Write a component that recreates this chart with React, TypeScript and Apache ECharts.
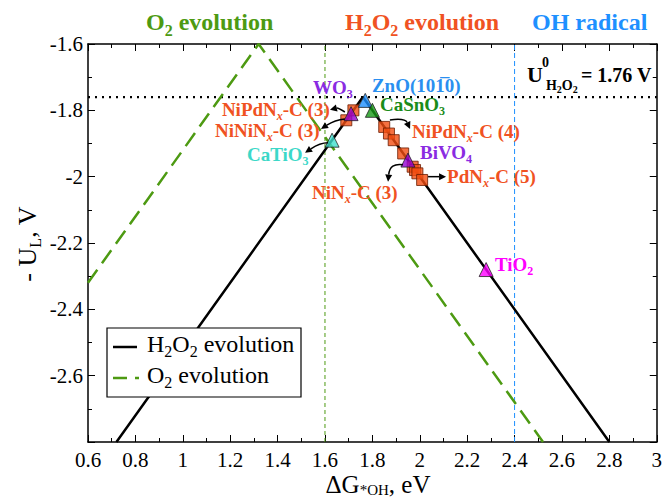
import React, { useEffect, useRef } from "react";
import * as echarts from "echarts";

const FONT = "'Liberation Serif', 'Times New Roman', serif";

// axes
const xMin = 0.6;
const xMax = 3;
const yMin = -2.8;
const yMax = -1.6;
const tickStep = 0.2;

// volcano lines
const h2o2LineX = [0.72, 1.76, 2.8];
const h2o2LineY = [-2.8, -1.76, -2.8];
const o2LineX = [0.6, 1.32, 2.52];
const o2LineY = [-2.32, -1.6, -2.8];
const u0H2O2 = -1.76;
const o2Limit = 1.6;
const ohLimit = 2.4;

// M-N-C catalysts (squares)
const squareX = [1.69, 1.72, 1.85, 1.87, 1.89, 1.93, 1.97, 1.98, 1.99, 2.01];
const squareY = [-1.83, -1.8, -1.85, -1.87, -1.89, -1.93, -1.97, -1.98, -1.99, -2.01];

// oxides (triangles)
const triNames = ["WO3", "ZnO", "CaSnO3", "CaTiO3", "BiVO4", "TiO2"];
const triX = [1.71, 1.77, 1.8, 1.63, 1.95, 2.28];
const triY = [-1.81, -1.77, -1.8, -1.89, -1.95, -2.28];
const triColors = ["#9400d3", "#1e90ff", "#169a16", "#40e0d0", "#9400d3", "#ff00ff"];

const ORANGE = "#f05222";
const GREEN = "#4d9a12";
const BLUE = "#1e90ff";

// annotation labels: rich text, anchor (left, middle) in data coords, colour
const labelTexts = [
  "{n|WO}{s|3}",
  "{n|ZnO(101\u03050)}",
  "{n|CaSnO}{s|3}",
  "{n|NiPdN}{i|x}{n|-C (4)}",
  "{n|BiVO}{s|4}",
  "{n|PdN}{i|x}{n|-C (5)}",
  "{n|NiN}{i|x}{n|-C (3)}",
  "{n|NiPdN}{i|x}{n|-C (3)}",
  "{n|NiNiN}{i|x}{n|-C (3)}",
  "{n|CaTiO}{s|3}",
  "{n|TiO}{s|2}",
];
const labelX = [1.549, 1.798, 1.832, 1.967, 2.001, 2.115, 1.545, 1.165, 1.136, 1.271, 2.317];
const labelY = [-1.732, -1.726, -1.783, -1.865, -1.928, -2.0, -2.048, -1.798, -1.862, -1.934, -2.265];
const labelColors = ["#8a2be2", "#2a8ff0", "#1a8c1a", ORANGE, "#8a2be2", ORANGE, ORANGE, ORANGE, ORANGE, "#3cd8c8", "#ff00ff"];

// arrows: start, control, end (data coords)
const arrowStart = [[1.684, -1.805], [1.684, -1.826], [1.613, -1.898], [1.874, -1.829], [1.929, -1.964], [2.035, -2.0]];
const arrowCtrl = [[1.655, -1.792], [1.642, -1.829], [1.579, -1.898], [1.938, -1.823], [1.874, -1.958], [2.07, -2.0]];
const arrowEnd = [[1.621, -1.798], [1.583, -1.856], [1.516, -1.928], [1.959, -1.856], [1.866, -2.015], [2.111, -2.0]];

const zip = (xs: number[], ys: number[]) => xs.map((x, i) => [x, ys[i]]);

export default function App() {
  const ref = useRef<HTMLDivElement>(null);

  useEffect(() => {
    if (!ref.current) return;
    const chart = echarts.init(ref.current, null, { renderer: "svg" });

    const tickCommon = {
      axisLine: { show: true, lineStyle: { color: "#000", width: 1.5 } },
      axisTick: { show: true, inside: true, length: 7, lineStyle: { color: "#000", width: 1 } },
      minorTick: { show: true, splitNumber: 2, length: 4, lineStyle: { color: "#000", width: 1 } },
      splitLine: { show: false },
      minorSplitLine: { show: false },
    };

    const option: any = {
      animation: false,
      backgroundColor: "#fff",
      grid: { left: 88, right: 8, top: 44, bottom: 55, containLabel: false },
      xAxis: [
        {
          type: "value",
          min: xMin,
          max: xMax,
          interval: tickStep,
          position: "bottom",
          ...tickCommon,
          axisLabel: { color: "#000", fontFamily: FONT, fontSize: 21, margin: 8, lineHeight: 20 },
        },
        {
          type: "value",
          min: xMin,
          max: xMax,
          interval: tickStep,
          position: "top",
          ...tickCommon,
          axisLabel: { show: false },
        },
      ],
      yAxis: [
        {
          type: "value",
          min: yMin,
          max: yMax,
          interval: tickStep,
          position: "left",
          ...tickCommon,
          axisLabel: {
            color: "#000",
            fontFamily: FONT,
            fontSize: 21,
            margin: 5,
            formatter: (v: number) => (Math.abs(v - yMin) < 1e-9 ? "" : String(Math.round(v * 10) / 10)),
          },
        },
        {
          type: "value",
          min: yMin,
          max: yMax,
          interval: tickStep,
          position: "right",
          ...tickCommon,
          axisLabel: { show: false },
        },
      ],
      series: [
        {
          type: "line",
          data: [[o2Limit, yMin], [o2Limit, yMax]],
          symbol: "none",
          lineStyle: { color: GREEN, width: 1, type: [4, 3] },
          z: 1,
        },
        {
          type: "line",
          data: [[ohLimit, yMin], [ohLimit, yMax]],
          symbol: "none",
          lineStyle: { color: BLUE, width: 1, type: [5, 3] },
          z: 1,
        },
        {
          type: "line",
          data: [[xMin, u0H2O2], [xMax, u0H2O2]],
          symbol: "none",
          lineStyle: { color: "#000", width: 2.2, type: [2, 5] },
          z: 1,
        },
        {
          type: "line",
          data: zip(o2LineX, o2LineY),
          symbol: "none",
          lineStyle: { color: GREEN, width: 2.5, type: [16, 8] },
          z: 2,
        },
        {
          type: "line",
          data: zip(h2o2LineX, h2o2LineY),
          symbol: "none",
          lineStyle: { color: "#000", width: 2.5 },
          z: 2,
        },
        {
          type: "scatter",
          data: zip(squareX, squareY),
          symbol: "rect",
          symbolSize: 11,
          itemStyle: { color: "#f24e12", borderColor: "#6a1c00", borderWidth: 1 },
          z: 3,
        },
        {
          type: "scatter",
          data: triNames.map((n, i) => ({
            name: n,
            value: [triX[i], triY[i]],
            itemStyle: { color: triColors[i] },
          })),
          symbol: "triangle",
          symbolSize: 14,
          itemStyle: { borderColor: "#222", borderWidth: 1 },
          z: 4,
        },
      ],
    };

    chart.setOption(option);

    const P = (x: number, y: number) => chart.convertToPixel({ gridIndex: 0 } as any, [x, y]) as number[];

    const rich = (color: string, size: number, sub: number, drop = 0.65, lh = size) => {
      const pad = [Math.round(size * drop), 0, 0, 0];
      return {
        n: { fill: color, fontSize: size, fontWeight: "bold", fontFamily: FONT, lineHeight: lh },
        s: { fill: color, fontSize: sub, fontWeight: "bold", fontFamily: FONT, padding: pad, lineHeight: lh },
        i: { fill: color, fontSize: sub, fontWeight: "bold", fontStyle: "italic", fontFamily: FONT, padding: pad, lineHeight: lh },
        r: { fill: color, fontSize: size, fontWeight: "normal", fontFamily: FONT, lineHeight: lh },
        rs: { fill: color, fontSize: sub, fontWeight: "normal", fontFamily: FONT, padding: pad, lineHeight: lh },
      };
    };

    const g: any[] = [];

    // labels
    labelTexts.forEach((t, i) => {
      const [px, py] = P(labelX[i], labelY[i]);
      g.push({
        type: "text",
        x: px,
        y: py,
        z: 100,
        style: { text: t, rich: rich(labelColors[i], 19, 12, 0.62, 19), textAlign: "left", textVerticalAlign: "middle" },
      });
    });

    // arrows
    arrowStart.forEach((s, i) => {
      const [x1, y1] = P(s[0], s[1]);
      const [cx, cy] = P(arrowCtrl[i][0], arrowCtrl[i][1]);
      const [x2, y2] = P(arrowEnd[i][0], arrowEnd[i][1]);
      let dx = x2 - cx;
      let dy = y2 - cy;
      const len = Math.hypot(dx, dy) || 1;
      dx /= len;
      dy /= len;
      const hl = 7;
      const hw = 3.5;
      const bx = x2 - dx * hl;
      const by = y2 - dy * hl;
      g.push({
        type: "bezierCurve",
        z: 100,
        shape: { x1, y1, x2: bx, y2: by, cpx1: cx, cpy1: cy },
        style: { stroke: "#000", lineWidth: 1.5, fill: null },
      });
      g.push({
        type: "polygon",
        z: 100,
        shape: {
          points: [
            [x2, y2],
            [bx - dy * hw, by + dx * hw],
            [bx + dy * hw, by - dx * hw],
          ],
        },
        style: { fill: "#000" },
      });
    });

    // U0 label
    {
      const [px, py] = P(2.452, -1.693);
      const f = { fontFamily: FONT, fontWeight: "bold", fill: "#000" };
      g.push({ type: "text", x: px, y: py, z: 100, style: { ...f, text: "U", fontSize: 22, textAlign: "left", textVerticalAlign: "middle" } });
      g.push({ type: "text", x: px + 15, y: py - 12, z: 100, style: { ...f, text: "0", fontSize: 14, textAlign: "left", textVerticalAlign: "middle" } });
      g.push({
        type: "text",
        x: px + 19,
        y: py + 11,
        z: 100,
        style: {
          text: "{a|H}{b|2}{a|O}{b|2}",
          rich: {
            a: { ...f, fontSize: 14, lineHeight: 14 },
            b: { ...f, fontSize: 10, padding: [8, 0, 0, 0], lineHeight: 14 },
          },
          textAlign: "left",
          textVerticalAlign: "middle",
        },
      });
      g.push({ type: "text", x: px + 54, y: py, z: 100, style: { ...f, text: "= 1.76 V", fontSize: 20, textAlign: "left", textVerticalAlign: "middle" } });
    }

    // top titles
    const titleDefs = [
      { x: 146, t: "{n|O}{s|2}{n| evolution}", c: GREEN },
      { x: 345, t: "{n|H}{s|2}{n|O}{s|2}{n| evolution}", c: ORANGE },
      { x: 532, t: "{n|OH radical}", c: BLUE },
    ];
    titleDefs.forEach((d) => {
      g.push({
        type: "text",
        x: d.x,
        y: 22,
        style: { text: d.t, rich: rich(d.c, 24, 16, 0.7, 24), textAlign: "left", textVerticalAlign: "middle" },
      });
    });

    // axis names
    g.push({
      type: "text",
      x: 378,
      y: 484,
      style: {
        text: "{r|\u0394G}{rs|*OH}{r|, eV}",
        rich: rich("#000", 25, 15, 0.45, 21),
        textAlign: "center",
        textVerticalAlign: "middle",
      },
    });
    g.push({
      type: "text",
      x: 27,
      y: 244,
      rotation: Math.PI / 2,
      style: {
        text: "{r|- U}{rs|L}{r|, V}",
        rich: rich("#000", 26, 16, 0.65, 26),
        textAlign: "center",
        textVerticalAlign: "middle",
      },
    });

    // legend
    g.push({
      type: "rect",
      z: 100,
      shape: { x: 107, y: 328, width: 194, height: 69 },
      style: { fill: "#fff", stroke: "#000", lineWidth: 1.2 },
    });
    g.push({
      type: "line",
      z: 101,
      shape: { x1: 113, y1: 347, x2: 137, y2: 347 },
      style: { stroke: "#000", lineWidth: 2.5 },
    });
    g.push({
      type: "line",
      z: 101,
      shape: { x1: 113, y1: 378, x2: 139, y2: 378 },
      style: { stroke: GREEN, lineWidth: 2.5, lineDash: [14, 8] },
    });
    g.push({
      type: "text",
      z: 101,
      x: 147,
      y: 344,
      style: { text: "{r|H}{rs|2}{r|O}{rs|2}{r| evolution}", rich: rich("#000", 24, 16, 0.6, 24), textAlign: "left", textVerticalAlign: "middle" },
    });
    g.push({
      type: "text",
      z: 101,
      x: 147,
      y: 375,
      style: { text: "{r|O}{rs|2}{r| evolution}", rich: rich("#000", 24, 16, 0.6, 24), textAlign: "left", textVerticalAlign: "middle" },
    });

    chart.setOption({ graphic: g });

    return () => chart.dispose();
  }, []);

  return <div ref={ref} style={{ position: "absolute", left: 0, top: 0, width: 665, height: 497 }} />;
}
